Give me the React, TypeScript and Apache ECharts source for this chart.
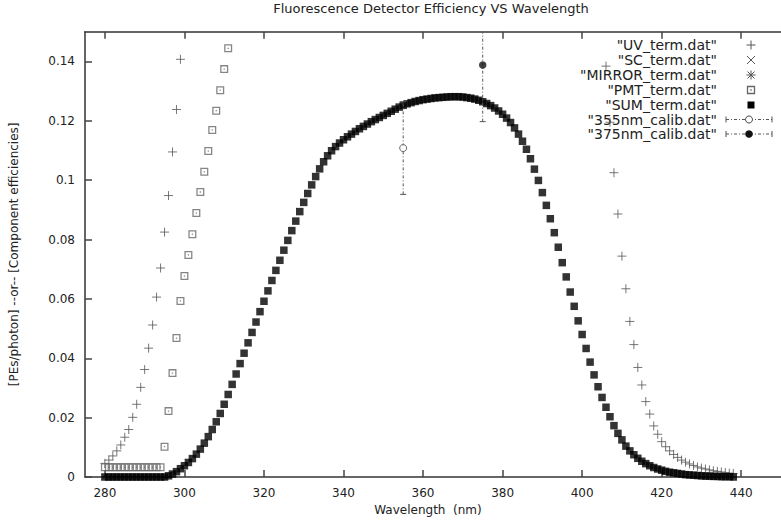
import React, { useEffect, useRef } from 'react';
import * as echarts from 'echarts';

// ---------- data ----------
const xTicks = [280, 300, 320, 340, 360, 380, 400, 420, 440];
const yTicks = [0, 0.02, 0.04, 0.06, 0.08, 0.1, 0.12, 0.14];

const uvWavelengths = [280, 281, 282, 283, 284, 285, 286, 287, 288, 289, 290, 291, 292, 293, 294, 295, 296, 297, 298, 299,
  406, 407, 408, 409, 410, 411, 412, 413, 414, 415, 416, 417, 418, 419, 420, 421, 422, 423, 424, 425, 426, 427, 428, 429, 430, 431, 432, 433, 434, 435, 436, 437, 438];
const uvValues = [0.0046, 0.0057, 0.0071, 0.0088, 0.0108, 0.0134, 0.0160, 0.0201, 0.0245, 0.0302, 0.0362, 0.0434, 0.0512, 0.0606, 0.0704, 0.0825, 0.0948, 0.1095, 0.1238, 0.1407,
  0.1384, 0.1195, 0.1025, 0.0886, 0.0744, 0.0634, 0.0524, 0.0446, 0.0369, 0.0310, 0.0254, 0.0212, 0.0172, 0.0144, 0.0119, 0.0102, 0.0088, 0.0076, 0.0066, 0.0057, 0.0050, 0.0044, 0.0039, 0.0034, 0.0030, 0.0027, 0.0024, 0.0021, 0.0019, 0.0017, 0.0015, 0.0013, 0.0012];

// SC and MIRROR terms lie above the plotted range (not visible)
const scWavelengths: number[] = [];
const scValues: number[] = [];
const mirrorWavelengths: number[] = [];
const mirrorValues: number[] = [];

const pmtWavelengths = [280, 281, 282, 283, 284, 285, 286, 287, 288, 289, 290, 291, 292, 293, 294, 295, 296, 297, 298, 299, 300, 301, 302, 303, 304, 305, 306, 307, 308, 309, 310, 311];
const pmtValues = [0.0033, 0.0033, 0.0033, 0.0033, 0.0033, 0.0033, 0.0033, 0.0033, 0.0033, 0.0033, 0.0033, 0.0033, 0.0033, 0.0033, 0.0033, 0.0102, 0.0222, 0.0350, 0.0468, 0.0593, 0.0677, 0.0748, 0.0818, 0.0889, 0.0960, 0.1028, 0.1098, 0.1169, 0.1234, 0.1303, 0.1374, 0.1444];

const sumWavelengths = [280, 281, 282, 283, 284, 285, 286, 287, 288, 289, 290, 291, 292, 293, 294, 295, 296, 297, 298, 299,
  300, 301, 302, 303, 304, 305, 306, 307, 308, 309, 310, 311, 312, 313, 314, 315, 316, 317, 318, 319,
  320, 321, 322, 323, 324, 325, 326, 327, 328, 329, 330, 331, 332, 333, 334, 335, 336, 337, 338, 339,
  340, 341, 342, 343, 344, 345, 346, 347, 348, 349, 350, 351, 352, 353, 354, 355, 356, 357, 358, 359,
  360, 361, 362, 363, 364, 365, 366, 367, 368, 369, 370, 371, 372, 373, 374, 375, 376, 377, 378, 379,
  380, 381, 382, 383, 384, 385, 386, 387, 388, 389, 390, 391, 392, 393, 394, 395, 396, 397, 398, 399,
  400, 401, 402, 403, 404, 405, 406, 407, 408, 409, 410, 411, 412, 413, 414, 415, 416, 417, 418, 419,
  420, 421, 422, 423, 424, 425, 426, 427, 428, 429, 430, 431, 432, 433, 434, 435, 436, 437, 438];
const sumValues = [0, 0, 0, 0, 0, 0, 0, 0, 0, 0, 0, 0, 0, 0, 0, 0, 0.0004, 0.0010, 0.0018, 0.0028,
  0.0038, 0.0049, 0.0062, 0.0077, 0.0094, 0.0114, 0.0136, 0.0160, 0.0186, 0.0214, 0.0245, 0.0278, 0.0312, 0.0347, 0.0382, 0.0417, 0.0452, 0.0487, 0.0522, 0.0557,
  0.0592, 0.0627, 0.0662, 0.0696, 0.0730, 0.0764, 0.0797, 0.0830, 0.0862, 0.0894, 0.0925, 0.0955, 0.0984, 0.1012, 0.1038, 0.1062, 0.1082, 0.1099, 0.1113, 0.1125,
  0.1136, 0.1146, 0.1155, 0.1164, 0.1173, 0.1181, 0.1189, 0.1197, 0.1204, 0.1211, 0.1218, 0.1225, 0.1232, 0.1239, 0.1246, 0.1252, 0.1257, 0.1261, 0.1265, 0.1268,
  0.1271, 0.1273, 0.1275, 0.1277, 0.1278, 0.1279, 0.1280, 0.1281, 0.1281, 0.1281, 0.1280, 0.1278, 0.1276, 0.1273, 0.1269, 0.1264, 0.1258, 0.1251, 0.1243, 0.1233,
  0.1222, 0.1209, 0.1194, 0.1176, 0.1155, 0.1131, 0.1104, 0.1072, 0.1037, 0.0999, 0.0958, 0.0915, 0.0870, 0.0823, 0.0774, 0.0722, 0.0674, 0.0623, 0.0575, 0.0526,
  0.0480, 0.0433, 0.0387, 0.0344, 0.0304, 0.0268, 0.0235, 0.0203, 0.0173, 0.0147, 0.0125, 0.0104, 0.0088, 0.0075, 0.0063, 0.0053, 0.0045, 0.0038, 0.0032, 0.0027,
  0.0023, 0.0019, 0.0016, 0.0014, 0.0012, 0.0010, 0.0008, 0.0007, 0.0006, 0.0005, 0.0004, 0.0003, 0.0003, 0.0002, 0.0002, 0.0001, 0.0001, 0.0001, 0.0000];

// calibration points: wavelength, value, low, high
const calib355 = { wavelength: 355, value: 0.1108, low: 0.0952, high: 0.1264 };
const calib375 = { wavelength: 375, value: 0.1388, low: 0.1197, high: 0.1579 };

const legendLabels = ['"UV_term.dat"', '"SC_term.dat"', '"MIRROR_term.dat"', '"PMT_term.dat"', '"SUM_term.dat"', '"355nm_calib.dat"', '"375nm_calib.dat"'];

const title = 'Fluorescence Detector Efficiency VS Wavelength';
const xName = 'Wavelength  (nm)';
const yName = '[PEs/photon] --or-- [Component efficiencies]';

// ---------- styling ----------
const FONT = 'DejaVu Sans';
const X_MIN = 275;
const X_MAX = 450;
const Y_MIN = 0;
const Y_MAX = 0.15;
const PLUS = 'path://M0,-1V1M-1,0H1';
const CROSS = 'path://M-1,-1L1,1M-1,1L1,-1';
const STAR = 'path://M0,-1V1M-1,0H1M-0.8,-0.8L0.8,0.8M-0.8,0.8L0.8,-0.8';
const PMT_SYM = 'path://M0,0H10V10H0Z M1.6,1.6V8.4H8.4V1.6Z M4.2,4.2H5.8V5.8H4.2Z';

const pairs = (xs: number[], ys: number[]) => xs.map((x, i) => [x, ys[i]]);

function errorBarSeries(name: string, c: { wavelength: number; value: number; low: number; high: number }) {
  return {
    name: name + ' errorbar',
    type: 'custom',
    data: [[c.wavelength, c.value, c.low, c.high]],
    encode: { x: 0, y: 1 },
    z: 5,
    renderItem: (params: any, api: any) => {
      const x = api.value(0);
      const lo = api.value(2);
      const hi = api.value(3);
      const hiC = Math.min(hi, Y_MAX);
      const pLo = api.coord([x, lo]);
      const pHi = api.coord([x, hiC]);
      const st = { stroke: '#555', lineWidth: 1, lineDash: [3, 2, 1, 2] };
      const children: any[] = [
        { type: 'line', shape: { x1: pLo[0], y1: pLo[1], x2: pHi[0], y2: pHi[1] }, style: st },
        { type: 'line', shape: { x1: pLo[0] - 3, y1: pLo[1], x2: pLo[0] + 3, y2: pLo[1] }, style: { stroke: '#555', lineWidth: 1 } },
      ];
      if (hi <= Y_MAX) {
        children.push({ type: 'line', shape: { x1: pHi[0] - 3, y1: pHi[1], x2: pHi[0] + 3, y2: pHi[1] }, style: { stroke: '#555', lineWidth: 1 } });
      }
      return { type: 'group', children };
    },
  };
}

function buildLegend() {
  const rows = [45, 60, 75, 90, 105, 119.5, 134];
  const textRight = 717;
  const mx = 751;
  const els: any[] = [];
  legendLabels.forEach((label, i) => {
    els.push({
      type: 'text', x: textRight, y: rows[i],
      style: { text: label, align: 'right', verticalAlign: 'middle', fontSize: 14, fontFamily: FONT, fill: '#222' },
    });
  });
  const g = '#555';
  const ln = (x1: number, y1: number, x2: number, y2: number, extra: any = {}) => ({
    type: 'line', shape: { x1, y1, x2, y2 }, style: { stroke: g, lineWidth: 1, ...extra },
  });
  // UV plus
  els.push(ln(mx - 4.5, rows[0], mx + 4.5, rows[0]), ln(mx, rows[0] - 4.5, mx, rows[0] + 4.5));
  // SC cross
  els.push(ln(mx - 4, rows[1] - 4, mx + 4, rows[1] + 4), ln(mx - 4, rows[1] + 4, mx + 4, rows[1] - 4));
  // MIRROR star
  els.push(ln(mx - 4.5, rows[2], mx + 4.5, rows[2]), ln(mx, rows[2] - 4.5, mx, rows[2] + 4.5),
    ln(mx - 3.5, rows[2] - 3.5, mx + 3.5, rows[2] + 3.5), ln(mx - 3.5, rows[2] + 3.5, mx + 3.5, rows[2] - 3.5));
  // PMT hollow square with dot
  els.push({ type: 'rect', shape: { x: mx - 3.5, y: rows[3] - 3.5, width: 7, height: 7 }, style: { fill: '#fff', stroke: '#666', lineWidth: 1.3 } });
  els.push({ type: 'rect', shape: { x: mx - 0.7, y: rows[3] - 0.7, width: 1.4, height: 1.4 }, style: { fill: '#666' } });
  // SUM filled square
  els.push({ type: 'rect', shape: { x: mx - 3.5, y: rows[4] - 3.5, width: 7, height: 7 }, style: { fill: '#000' } });
  // calib samples
  [5, 6].forEach((r) => {
    const y = rows[r];
    els.push(ln(726, y, 772, y, { lineDash: [3, 2, 1, 2] }));
    els.push(ln(726, y - 3, 726, y + 3), ln(772, y - 3, 772, y + 3));
  });
  els.push({ type: 'circle', shape: { cx: 749, cy: rows[5], r: 3.5 }, style: { fill: '#fff', stroke: '#444', lineWidth: 1 } });
  els.push({ type: 'circle', shape: { cx: 749, cy: rows[6], r: 3.8 }, style: { fill: '#111' } });
  return els;
}

export default function App() {
  const ref = useRef<HTMLDivElement>(null);
  useEffect(() => {
    const chart = echarts.init(ref.current!, null, { renderer: 'svg' });
    const axisLineStyle = { color: '#333', width: 1.5 };
    const tickStyle = { color: '#444', width: 1.5 };
    const labelStyle = { color: '#222', fontSize: 12, fontFamily: FONT };
    const option: any = {
      animation: false,
      backgroundColor: '#fff',
      grid: { left: 81.7, top: 31.7, right: -10, bottom: 46, containLabel: false },
      xAxis: [
        {
          type: 'value', min: X_MIN, max: X_MAX, position: 'bottom',
          axisLine: { show: true, lineStyle: axisLineStyle },
          axisTick: { show: true, inside: true, length: 7, lineStyle: tickStyle, customValues: xTicks },
          axisLabel: { ...labelStyle, margin: 10, customValues: xTicks },
          splitLine: { show: false },
          name: xName, nameLocation: 'middle', nameGap: 27,
          nameTextStyle: { color: '#222', fontSize: 12, fontFamily: FONT, padding: [0, 10, 0, 0] },
        },
        {
          type: 'value', min: X_MIN, max: X_MAX, position: 'top',
          axisLine: { show: true, lineStyle: axisLineStyle },
          axisTick: { show: true, inside: true, length: 7, lineStyle: tickStyle, customValues: xTicks },
          axisLabel: { show: false },
          splitLine: { show: false },
        },
      ],
      yAxis: [
        {
          type: 'value', min: Y_MIN, max: Y_MAX, position: 'left',
          axisLine: { show: true, lineStyle: axisLineStyle },
          axisTick: { show: true, inside: true, length: 7, lineStyle: tickStyle, customValues: yTicks },
          axisLabel: { ...labelStyle, margin: 10, customValues: yTicks },
          splitLine: { show: false },
          name: yName, nameLocation: 'middle', nameGap: 65, nameRotate: 90,
          nameTextStyle: { color: '#222', fontSize: 12, fontFamily: FONT },
        },
      ],
      graphic: [
        {
          type: 'text', x: 431, y: 8,
          style: { text: title, align: 'center', verticalAlign: 'middle', fontSize: 13, fontFamily: FONT, fill: '#222' },
        },
        ...buildLegend(),
      ],
      series: [
        {
          name: legendLabels[0], type: 'scatter', data: pairs(uvWavelengths, uvValues),
          symbol: PLUS, symbolSize: 9,
          itemStyle: { color: '#555', borderColor: '#555', borderWidth: 1 },
          z: 2,
        },
        {
          name: legendLabels[1], type: 'scatter', data: pairs(scWavelengths, scValues),
          symbol: CROSS, symbolSize: 8,
          itemStyle: { color: '#555', borderColor: '#555', borderWidth: 1 },
          z: 2,
        },
        {
          name: legendLabels[2], type: 'scatter', data: pairs(mirrorWavelengths, mirrorValues),
          symbol: STAR, symbolSize: 9,
          itemStyle: { color: '#555', borderColor: '#555', borderWidth: 1 },
          z: 2,
        },
        {
          name: legendLabels[3], type: 'scatter', data: pairs(pmtWavelengths, pmtValues),
          symbol: PMT_SYM, symbolSize: 8,
          itemStyle: { color: '#666' },
          z: 3,
        },
        {
          name: legendLabels[4], type: 'scatter', data: pairs(sumWavelengths, sumValues),
          symbol: 'rect', symbolSize: 7.5,
          itemStyle: { color: '#000' },
          z: 4,
        },
        errorBarSeries(legendLabels[5], calib355),
        errorBarSeries(legendLabels[6], calib375),
        {
          name: legendLabels[5], type: 'scatter', data: [[calib355.wavelength, calib355.value]],
          symbol: 'circle', symbolSize: 7,
          itemStyle: { color: '#fff', borderColor: '#444', borderWidth: 1 },
          z: 6,
        },
        {
          name: legendLabels[6], type: 'scatter', data: [[calib375.wavelength, calib375.value]],
          symbol: 'circle', symbolSize: 7.5,
          itemStyle: { color: '#111' },
          z: 6,
        },
      ],
    };
    chart.setOption(option);
    return () => chart.dispose();
  }, []);
  return (
    <div
      ref={ref}
      style={{ position: 'fixed', left: 0, top: 0, width: 781, height: 523, background: '#fff' }}
    />
  );
}
